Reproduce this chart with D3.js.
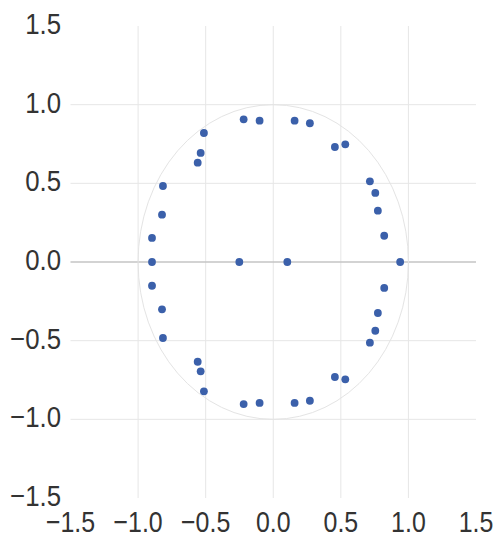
<!DOCTYPE html>
<html>
<head>
<meta charset="utf-8">
<script src="https://cdn.jsdelivr.net/npm/d3@7"></script>
<style>
  html, body { margin: 0; padding: 0; background: #fff; }
  svg { display: block; }
  text { font-family: "Liberation Sans", Arial, sans-serif; fill: #333; }
</style>
</head>
<body>
<svg id="chart" width="496" height="538"></svg>
<script>
// Sample points around the unit circle
const xValues = [
  -0.219, -0.513, -0.537, -0.559, -0.816, -0.823, -0.897,
  -0.101, 0.158, 0.271, 0.456, 0.533, 0.715, 0.755, 0.774, 0.821,
  -0.897, -0.251, 0.104, 0.939,
  -0.897, -0.823, -0.816, -0.559, -0.537, -0.513, -0.219,
  -0.101, 0.158, 0.271, 0.456, 0.533, 0.715, 0.755, 0.774, 0.821
];
const yValues = [
  0.907, 0.820, 0.693, 0.631, 0.483, 0.301, 0.153,
  0.898, 0.898, 0.882, 0.731, 0.748, 0.513, 0.439, 0.326, 0.167,
  0, 0, 0, 0,
  -0.151, -0.301, -0.483, -0.634, -0.695, -0.822, -0.903,
  -0.896, -0.896, -0.882, -0.731, -0.746, -0.513, -0.437, -0.324, -0.165
];
const xTicks = [-1.5, -1.0, -0.5, 0.0, 0.5, 1.0, 1.5];
const yTicks = [-1.5, -1.0, -0.5, 0.0, 0.5, 1.0, 1.5];
const gridValues = [-1.0, -0.5, 0.0, 0.5, 1.0];

const svg = d3.select("#chart");
const x = d3.scaleLinear().domain([-1.5, 1.5]).range([70.5, 476]);
const y = d3.scaleLinear().domain([-1.5, 1.5]).range([498, 26]);
const squish = 0.86;
const fmt = d3.format(".1f");

// Grid
const grid = svg.append("g");
grid.selectAll("line.v").data(gridValues).join("line")
  .attr("x1", d => x(d)).attr("x2", d => x(d))
  .attr("y1", y(1.5)).attr("y2", y(-1.5))
  .attr("stroke", "#e6e6e6").attr("stroke-width", 1);
grid.selectAll("line.h").data(gridValues).join("line")
  .attr("x1", x(-1.5)).attr("x2", x(1.5))
  .attr("y1", d => y(d)).attr("y2", d => y(d))
  .attr("stroke", d => d === 0 ? "#c4c4c4" : "#e6e6e6")
  .attr("stroke-width", d => d === 0 ? 1.5 : 1);

// Unit circle
svg.append("ellipse")
  .attr("cx", x(0)).attr("cy", y(0))
  .attr("rx", x(1) - x(0)).attr("ry", y(0) - y(1))
  .attr("fill", "none").attr("stroke", "#e4e4e4").attr("stroke-width", 1);

// Points
svg.append("g").selectAll("circle").data(xValues.map((v, i) => [v, yValues[i]])).join("circle")
  .attr("cx", d => x(d[0])).attr("cy", d => y(d[1]))
  .attr("r", 3.9).attr("fill", "#3b60aa");

// Y tick labels
svg.append("g").selectAll("text").data(yTicks).join("text")
  .attr("transform", d => `translate(61,${y(d) + 8}) scale(${squish},1)`)
  .attr("text-anchor", "end")
  .attr("font-size", 30)
  .text(d => fmt(d));

// X tick labels
svg.append("g").selectAll("text").data(xTicks).join("text")
  .attr("transform", d => `translate(${x(d)},531.5) scale(${squish},1)`)
  .attr("text-anchor", "middle")
  .attr("font-size", 29)
  .text(d => fmt(d));
</script>
</body>
</html>
